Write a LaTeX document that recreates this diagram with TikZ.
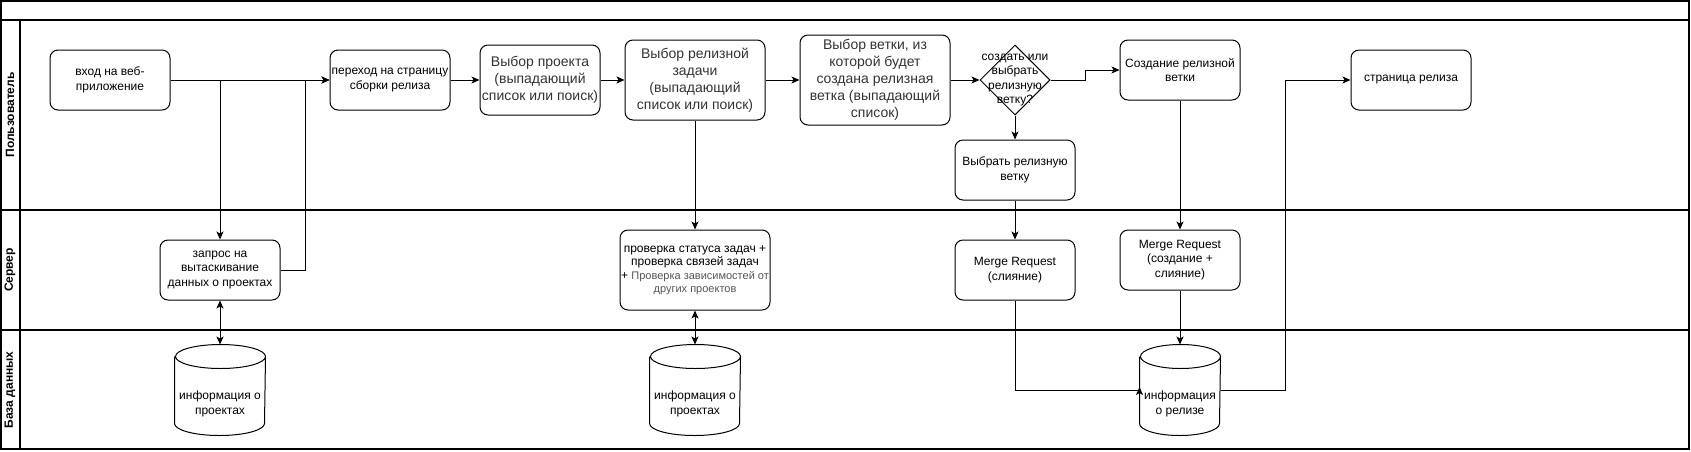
\documentclass[tikz,border=0pt]{standalone}
\usepackage{fontspec}
\setmainfont{Liberation Sans}
\usetikzlibrary{shapes.geometric,arrows.meta,calc}
\definecolor{darktxt}{HTML}{333333}
\definecolor{greytxt}{HTML}{555555}
\newcommand{\drawcyl}[3]{%
  \draw ([yshift=-#3]#1.north west) -- ([yshift=#3]#1.south west)
    arc[start angle=180,end angle=360,x radius=#2,y radius=#3]
    -- ([yshift=-#3]#1.north east)
    arc[start angle=0,end angle=180,x radius=#2,y radius=#3]
    arc[start angle=180,end angle=360,x radius=#2,y radius=#3];}
\begin{document}
\begin{tikzpicture}[x=1pt,y=-1pt,line width=1pt,
  box/.style={draw,rounded corners=8pt,align=center,inner sep=1pt,
    font=\fontsize{12}{14.4}\selectfont},
  bigbox/.style={box,font=\fontsize{14}{17}\selectfont,text=darktxt},
  txt/.style={align=center,inner sep=0pt,font=\fontsize{12}{14.4}\selectfont},
  cylbox/.style={inner sep=0pt,minimum height=90pt},
  dmd/.style={draw,diamond,shape aspect=1,inner sep=0pt,minimum width=70pt,minimum height=70pt},
  lanelabel/.style={rotate=90,font=\bfseries\fontsize{12}{14}\selectfont},
  arr/.style={-{Stealth[length=8pt,width=7pt,inset=2pt]}},
  darr/.style={{Stealth[length=8pt,width=7pt,inset=2pt]}-{Stealth[length=8pt,width=7pt,inset=2pt]}},
  frameline/.style={line width=1.2pt}]
\useasboundingbox (0,0) rectangle (1691,451);
% pool and lanes
\draw[frameline] (1,1) rectangle (1689,449);
\draw[frameline] (1,20) -- (1689,20);
\draw[frameline] (1,210) -- (1689,210);
\draw[frameline] (1,330) -- (1689,330);
\draw[frameline] (20,20) -- (20,449);
\node[lanelabel] (l1) at (10,115) {Пользователь};
\node[lanelabel] (l2) at (10,270) {Сервер};
\node[lanelabel] (l3) at (10,390) {База данных};
% user lane
\node[box,minimum width=120pt,minimum height=60pt] (n1) at (110,80) {вход на веб-\\приложение};
\node[box,minimum width=120pt,minimum height=60pt] (n2) at (390,80) {переход на страницу\\сборки релиза};
\node[bigbox,minimum width=120pt,minimum height=70pt] (n3) at (540,80) {Выбор проекта\\(выпадающий\\список или поиск)};
\node[bigbox,minimum width=140pt,minimum height=80pt] (n4) at (695,80) {Выбор релизной\\задачи\\(выпадающий\\список или поиск)};
\node[bigbox,minimum width=150pt,minimum height=90pt] (n5) at (875,80) {Выбор ветки, из\\которой будет\\создана релизная\\ветка (выпадающий\\список)};
\node[dmd] (d) at (1015,80) {};
\node[txt] (dt) at (1015,80) {создать или\\выбрать\\релизную\\ветку?};
\node[box,minimum width=120pt,minimum height=60pt] (n6) at (1180,70) {Создание релизной\\ветки};
\node[box,minimum width=120pt,minimum height=60pt] (n7) at (1015,170) {Выбрать релизную\\ветку};
\node[box,minimum width=120pt,minimum height=60pt] (n8) at (1411,80) {страница релиза};
% server lane
\node[box,minimum width=120pt,minimum height=60pt] (s1) at (220,270) {запрос на\\вытаскивание\\данных о проектах};
\node[box,minimum width=150pt,minimum height=80pt,font=\fontsize{12}{13.5}\selectfont] (s2) at (695,270)
  {проверка статуса задач +\\проверка связей задач\\+ {\color{greytxt}\fontsize{11}{13}\selectfont Проверка зависимостей от}\\{\color{greytxt}\fontsize{11}{13}\selectfont других проектов}};
\node[box,minimum width=120pt,minimum height=60pt] (s3) at (1015,270) {Merge Request\\(слияние)};
\node[box,minimum width=120pt,minimum height=60pt] (s4) at (1180,260) {Merge Request\\(создание +\\слияние)};
% database lane
\node[cylbox,minimum width=90pt] (c1) at (220,390) {};
\drawcyl{c1}{45pt}{12pt}
\node[txt] (c1t) at (220,404) {информация о\\проектах};
\node[cylbox,minimum width=90pt] (c2) at (695,390) {};
\drawcyl{c2}{45pt}{12pt}
\node[txt] (c2t) at (695,404) {информация о\\проектах};
\node[cylbox,minimum width=80pt] (c3) at (1180,390) {};
\drawcyl{c3}{40pt}{12pt}
\node[txt] (c3t) at (1180,404) {информация\\о релизе};
% connectors
\draw[arr] (n1.east) -- (n2.west);
\draw[arr] (n1.east) -| (s1.north);
\draw[arr] (s1.east) -- ++(25,0) |- (n2.west);
\draw[arr] (n2.east) -- (n3.west);
\draw[arr] (n3.east) -- (n4.west);
\draw[arr] (n4.east) -- (n5.west);
\draw[arr] (n5.east) -- (d.west);
\draw[arr] (d.east) -- ++(35,0) |- (n6.west);
\draw[arr] (d.south) -- (n7.north);
\draw[arr] (n4.south) -- (s2.north);
\draw[darr] (s1.south) -- (c1.north);
\draw[darr] (s2.south) -- (c2.north);
\draw[arr] (n7.south) -- (s3.north);
\draw[arr] (n6.south) -- (s4.north);
\draw[arr] (s4.south) -- (c3.north);
\draw (s3.south) |- (c3.west);
\draw[arr] ([yshift=-1pt]c3.west) -- ([yshift=3pt]c3.west);
\draw[arr] (c3.east) -- ++(65,0) |- (n8.west);
\end{tikzpicture}
\end{document}
